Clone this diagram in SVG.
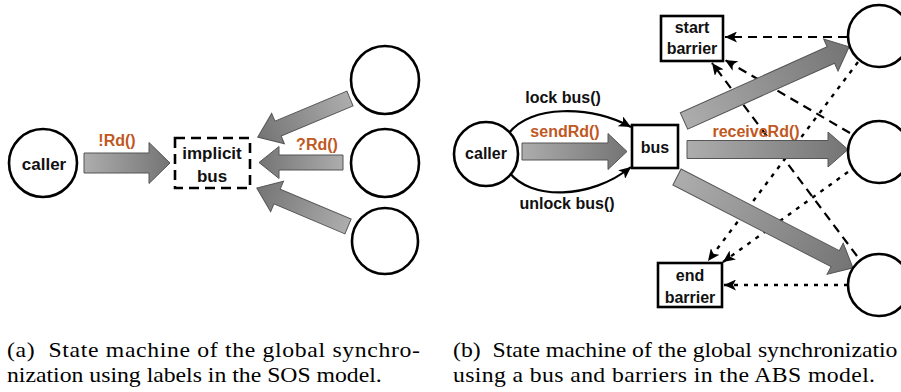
<svg xmlns="http://www.w3.org/2000/svg" width="901" height="392" viewBox="0 0 901 392">
  <style>
    .state { fill: #fff; stroke: #000; stroke-width: 2.6; }
    .box { fill: #fff; stroke: #000; stroke-width: 2.6; }
    .dashbox { fill: #fff; stroke: #000; stroke-width: 2.6; stroke-dasharray: 10 6; }
    .node { font-family: "Liberation Sans", Arial, sans-serif; font-weight: bold; text-anchor: middle; fill: #111; }
    .lbl { font-family: "Liberation Sans", Arial, sans-serif; font-weight: bold; text-anchor: middle; font-size: 16px; }
    .black { fill: #111; }
    .orange { fill: #C0581F; }
    .fat { fill: url(#grey); stroke: #555; stroke-width: 1; }
    .curve { fill: none; stroke: #000; stroke-width: 2.2; marker-end: url(#tip); }
    .dash { fill: none; stroke: #000; stroke-width: 2.2; stroke-dasharray: 9 6; marker-end: url(#tip); }
    .dot { fill: none; stroke: #000; stroke-width: 2.4; stroke-dasharray: 4 6; marker-end: url(#tip); }
    .cap { font-family: "Liberation Serif", "Times New Roman", serif; font-size: 21px; fill: #000; }
  </style>
  <defs>
    <linearGradient id="grey" x1="0" y1="0" x2="1" y2="0">
      <stop offset="0" stop-color="#adadad"/>
      <stop offset="1" stop-color="#747474"/>
    </linearGradient>
    <marker id="tip" markerUnits="userSpaceOnUse" markerWidth="13" markerHeight="11" refX="12" refY="5.5" orient="auto">
      <path d="M0,0 L12,5.5 L0,11 L3,5.5 Z" fill="#000"/>
    </marker>
  </defs>

  <!-- (a) SOS model -->
  <g id="a-caller">
    <circle class="state" cx="43" cy="163" r="34"/>
    <text class="node" x="44" y="170" font-size="17">caller</text>
  </g>
  <g id="a-implicit-bus">
    <rect class="dashbox" x="175" y="138" width="75" height="50"/>
    <text class="node" x="212" y="159" font-size="17">implicit</text>
    <text class="node" x="212" y="182" font-size="17">bus</text>
  </g>
  <g id="a-p1"><circle class="state" cx="385" cy="80" r="34"/></g>
  <g id="a-p2"><circle class="state" cx="385" cy="163" r="34"/></g>
  <g id="a-p3"><circle class="state" cx="385" cy="241" r="33"/></g>

  <g id="a-connectors">
    <!-- block arrows: tail at origin, pointing along +x -->
    <path class="fat" transform="translate(84,163)" d="M0,-10 L65,-10 L65,-20.5 L86,0 L65,20.5 L65,10 L0,10 Z"/>
    <path class="fat" transform="translate(350,98.5) rotate(157.3)" d="M0,-8 L78,-8 L78,-16.5 L100,0 L78,16.5 L78,8 L0,8 Z"/>
    <path class="fat" transform="translate(343,162.5) rotate(180)" d="M0,-7.5 L64,-7.5 L64,-16 L84,0 L64,16 L64,7.5 L0,7.5 Z"/>
    <path class="fat" transform="translate(348,226.5) rotate(202.9)" d="M0,-8 L77,-8 L77,-16.5 L99,0 L77,16.5 L77,8 L0,8 Z"/>
    <text class="lbl orange" x="117" y="146" font-size="16.5">!Rd()</text>
    <text class="lbl orange" x="317" y="150" font-size="16.5">?Rd()</text>
  </g>

  <!-- (b) ABS model -->
  <g id="b-connectors">
    <!-- start barrier signals -->
    <path class="dash" d="M847,37 L725,37"/>
    <path class="dash" d="M850,133 L725,60"/>
    <path class="dash" d="M857,256 L712,63"/>
    <!-- end barrier signals -->
    <path class="dot" d="M848,285 L724,285"/>
    <path class="dot" d="M848,172 L723,262"/>
    <path class="dot" d="M858,62 L708,261"/>
    <!-- bus locking -->
    <path class="curve" d="M509,133 C530,105 590,105 631,127"/>
    <path class="curve" d="M509,172 C530,200 590,200 631,167"/>
    <!-- block arrows -->
    <path class="fat" transform="translate(522,151.5)" d="M0,-8.5 L86,-8.5 L86,-18 L105,0 L86,18 L86,8.5 L0,8.5 Z"/>
    <path class="fat" transform="translate(684,121) rotate(-24.2)" d="M0,-9 L161,-9 L161,-17.5 L181,0 L161,17.5 L161,9 L0,9 Z"/>
    <path class="fat" transform="translate(687,149.5)" d="M0,-9 L141,-9 L141,-17.5 L161,0 L141,17.5 L141,9 L0,9 Z"/>
    <path class="fat" transform="translate(677,177) rotate(27.3)" d="M0,-9 L178,-9 L178,-17.5 L198,0 L178,17.5 L178,9 L0,9 Z"/>
    <text class="lbl black" x="563" y="103">lock bus()</text>
    <text class="lbl orange" x="565" y="137">sendRd()</text>
    <text class="lbl black" x="567" y="209">unlock bus()</text>
    <text class="lbl orange" x="756" y="137">receiveRd()</text>
  </g>

  <g id="b-caller">
    <circle class="state" cx="486" cy="154" r="32"/>
    <text class="node" x="486" y="159" font-size="16">caller</text>
  </g>
  <g id="b-bus">
    <rect class="box" x="632" y="125" width="46" height="43"/>
    <text class="node" x="655" y="153" font-size="16">bus</text>
  </g>
  <g id="b-start-barrier">
    <rect class="box" x="661" y="16" width="62" height="45"/>
    <text class="node" x="692" y="33" font-size="16">start</text>
    <text class="node" x="692" y="54" font-size="16">barrier</text>
  </g>
  <g id="b-end-barrier">
    <rect class="box" x="658" y="263" width="64" height="44"/>
    <text class="node" x="690" y="281" font-size="16">end</text>
    <text class="node" x="690" y="303" font-size="16">barrier</text>
  </g>
  <g id="b-p1"><circle class="state" cx="879" cy="36" r="31"/></g>
  <g id="b-p2"><circle class="state" cx="879" cy="152" r="31"/></g>
  <g id="b-p3"><circle class="state" cx="879" cy="285" r="31"/></g>

  <!-- captions: slightly widened serif, first lines justified -->
  <g id="captions-a" transform="translate(7,0) scale(1.13,1)">
    <text class="cap" x="0" y="357" xml:space="preserve" textLength="365.5" lengthAdjust="spacing">(a)  State machine of the global synchro-</text>
    <text class="cap" x="0" y="382">nization using labels in the SOS model.</text>
  </g>
  <g id="captions-b" transform="translate(453,0) scale(1.13,1)">
    <text class="cap" x="0" y="357" xml:space="preserve">(b)  State machine of the global synchronizatio</text>
    <text class="cap" x="0" y="382" textLength="373.5" lengthAdjust="spacing">using a bus and barriers in the ABS model.</text>
  </g>
</svg>
